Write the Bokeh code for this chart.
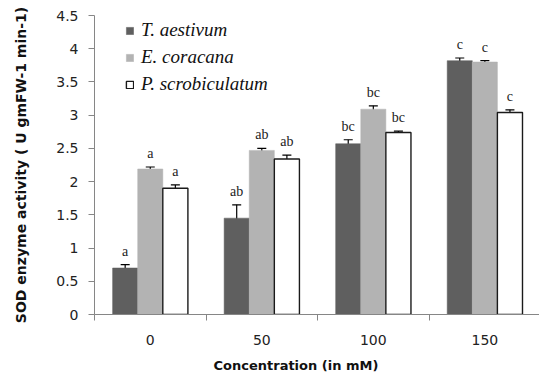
from bokeh.plotting import figure
from bokeh.models import (ColumnDataSource, Range1d, FixedTicker, Whisker, TeeHead,
                          LabelSet, Title, Legend, LegendItem)
from bokeh.embed import file_html
from bokeh.resources import INLINE

# SOD activity per species at each NaCl concentration
concentrations = ["0", "50", "100", "150"]
species = ["T. aestivum", "E. coracana", "P. scrobiculatum"]

t_aestivum = [0.70, 1.45, 2.57, 3.82]
t_aestivum_err = [0.05, 0.20, 0.06, 0.04]
t_aestivum_sig = ["a", "ab", "bc", "c"]

e_coracana = [2.19, 2.47, 3.09, 3.80]
e_coracana_err = [0.03, 0.03, 0.05, 0.02]
e_coracana_sig = ["a", "ab", "bc", "c"]

p_scrob = [1.90, 2.34, 2.74, 3.04]
p_scrob_err = [0.05, 0.06, 0.02, 0.04]
p_scrob_sig = ["a", "ab", "bc", "c"]

y_ticks = [0, 0.5, 1, 1.5, 2, 2.5, 3, 3.5, 4, 4.5]

p = figure(width=539, height=381, output_backend="svg", toolbar_location=None,
           x_range=Range1d(0, 3.99), y_range=Range1d(0, 4.5),
           min_border_left=94, min_border_right=0, min_border_top=15, min_border_bottom=10)
p.outline_line_color = None
p.xgrid.visible = False
p.ygrid.visible = False

bar_w = 0.225
series = [
    (t_aestivum, t_aestivum_err, t_aestivum_sig, -bar_w, "#5f5f5f", None),
    (e_coracana, e_coracana_err, e_coracana_sig, 0.0, "#b3b3b3", None),
    (p_scrob, p_scrob_err, p_scrob_sig, bar_w, "#ffffff", "#1a1a1a"),
]

legend_items = []
for (vals, errs, sig, off, fill, line), name in zip(series, species):
    xs = [i + 0.5 + off for i in range(len(concentrations))]
    src = ColumnDataSource(dict(
        x=xs, top=vals,
        upper=[v + e for v, e in zip(vals, errs)],
        lower=[v - e for v, e in zip(vals, errs)],
        sig=sig,
    ))
    r = p.vbar(x="x", top="top", width=bar_w, source=src, fill_color=fill,
               line_color=line if line else fill, line_width=1.4 if line else 0.5)
    legend_items.append(LegendItem(label=name, renderers=[r]))
    p.add_layout(Whisker(source=src, base="x", upper="upper", lower="lower",
                         line_color="black", line_width=1.2,
                         upper_head=TeeHead(size=9, line_color="black", line_width=1.2),
                         lower_head=TeeHead(size=9, line_color="black", line_width=1.2)))
    p.add_layout(LabelSet(source=src, x="x", y="upper", text="sig", y_offset=6,
                          text_align="center", text_baseline="bottom",
                          text_font="Liberation Serif", text_font_size="14px",
                          text_color="#222222"))

# x axis: labels at group centres, short ticks on group boundaries
xa = p.xaxis[0]
xa.ticker = FixedTicker(ticks=[i + 0.5 for i in range(len(concentrations))],
                        minor_ticks=list(range(len(concentrations) + 1)))
xa.major_label_overrides = {i + 0.5: c for i, c in enumerate(concentrations)}
xa.major_tick_out = 0
xa.major_tick_in = 0
xa.minor_tick_out = 6
xa.minor_tick_in = 0
xa.minor_tick_line_color = "#868686"
xa.axis_line_color = "#868686"
xa.major_label_text_font = "DejaVu Sans"
xa.major_label_text_font_size = "14px"
xa.major_label_text_color = "#222222"
xa.major_label_standoff = 14

# x title, set a little left of the frame centre
p.add_layout(Title(text="Concentration (in mM)", align="left", offset=119,
                   standoff=17, text_font="DejaVu Sans", text_font_style="bold",
                   text_font_size="13px", text_color="#111111"), "below")

ya = p.yaxis[0]
ya.ticker = FixedTicker(ticks=y_ticks, minor_ticks=[])
ya.major_label_overrides = {t: (str(int(t)) if float(t).is_integer() else str(t)) for t in y_ticks}
ya.major_tick_out = 6
ya.major_tick_in = 0
ya.major_tick_line_color = "#868686"
ya.axis_line_color = "#868686"
ya.major_label_text_font = "DejaVu Sans"
ya.major_label_text_font_size = "14px"
ya.major_label_text_color = "#222222"
ya.major_label_standoff = 10
ya.axis_label = "SOD enzyme activity ( U gmFW-1 min-1)"
ya.axis_label_text_font = "DejaVu Sans"
ya.axis_label_text_font_style = "bold"
ya.axis_label_text_font_size = "14px"
ya.axis_label_text_color = "#111111"
ya.axis_label_standoff = 24

legend = Legend(items=legend_items, location=(31, 219), orientation="vertical",
                glyph_width=9, glyph_height=9, label_standoff=7, spacing=5,
                padding=0, margin=0,
                label_text_font="Liberation Serif", label_text_font_style="italic",
                label_text_font_size="19px", label_text_color="#111111",
                border_line_alpha=0, background_fill_alpha=0)
p.add_layout(legend)

open("out.html", "w").write(file_html(p, INLINE))
